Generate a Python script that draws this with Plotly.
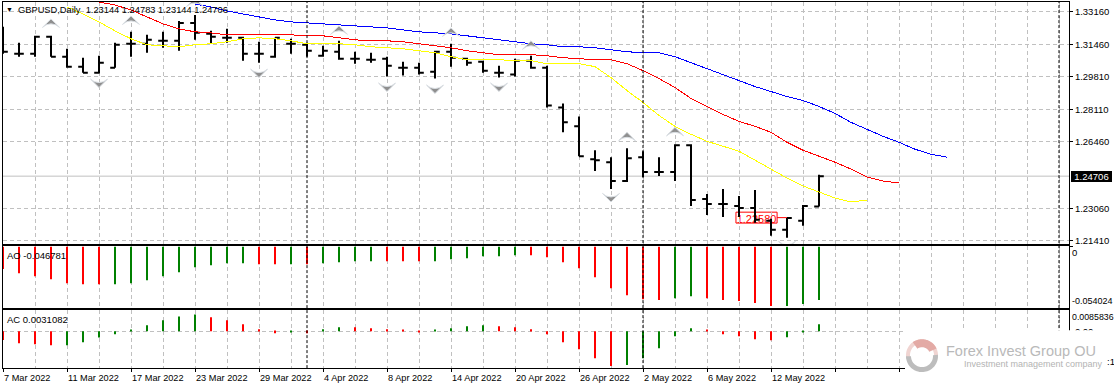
import numpy as np
import plotly.graph_objects as go

W, H = 1114, 391
LEFT_PX, RIGHT_PX = 3, 1069
BAR_STEP = 16

open_ = [1.31696,1.30982,1.30982,1.31849,1.30829,1.30319,1.30013,1.30268,1.31492,1.31492,1.31645,1.31645,1.32563,1.32002,1.31798,1.31798,1.30982,1.30829,1.31492,1.31441,1.30880,1.31084,1.30727,1.30676,1.30727,1.30268,1.30268,1.30064,1.31084,1.30727,1.30574,1.30013,1.29911,1.30625,1.30268,1.28228,1.27259,1.25576,1.25423,1.24454,1.25678,1.24913,1.24913,1.26290,1.23536,1.23281,1.23179,1.23077,1.22414,1.21955,1.22414,1.23144]
high = [1.32359,1.31543,1.31900,1.31900,1.31237,1.30778,1.30880,1.31543,1.32104,1.31951,1.32104,1.32665,1.32971,1.32155,1.32257,1.31849,1.31594,1.31798,1.31747,1.31543,1.31390,1.31645,1.31084,1.31033,1.30829,1.30574,1.30523,1.31135,1.31492,1.30778,1.30625,1.30370,1.30727,1.30880,1.30370,1.28432,1.27769,1.26035,1.25678,1.26137,1.25984,1.25678,1.26341,1.26341,1.23791,1.24046,1.23689,1.23995,1.22516,1.22567,1.23230,1.24783]
low = [1.30982,1.30829,1.30829,1.30829,1.30268,1.30013,1.29962,1.30268,1.30829,1.31033,1.31288,1.31135,1.31696,1.31492,1.31543,1.30625,1.30523,1.30778,1.30982,1.30829,1.30829,1.30676,1.30472,1.30523,1.29809,1.29860,1.29911,1.29707,1.30319,1.30370,1.30013,1.29758,1.29809,1.30217,1.28228,1.26953,1.25729,1.24964,1.24046,1.24403,1.24658,1.24709,1.24454,1.23179,1.22720,1.22618,1.22618,1.22312,1.21649,1.21547,1.22159,1.23144]
close = [1.31084,1.30982,1.31849,1.30829,1.30319,1.30013,1.30523,1.31441,1.31492,1.31696,1.31645,1.32563,1.32053,1.31849,1.31798,1.30982,1.30982,1.31798,1.31492,1.31135,1.31135,1.30727,1.30727,1.30676,1.30370,1.30268,1.30013,1.31084,1.30778,1.30523,1.30115,1.30013,1.30625,1.30268,1.28330,1.27463,1.25729,1.25525,1.24454,1.25627,1.24913,1.24913,1.26290,1.23485,1.23281,1.23281,1.23077,1.22465,1.21955,1.22567,1.23179,1.24706]

blue_start = 12
blue_ma = [1.33532,1.33379,1.33175,1.33022,1.32869,1.32716,1.32614,1.32563,1.32512,1.32461,1.32410,1.32359,1.32308,1.32206,1.32104,1.32053,1.32002,1.31900,1.31798,1.31696,1.31594,1.31492,1.31441,1.31339,1.31339,1.31288,1.31186,1.31084,1.31033,1.31033,1.30829,1.30523,1.30217,1.29911,1.29605,1.29299,1.29044,1.28789,1.28585,1.28279,1.27922,1.27463,1.27106,1.26749,1.26443,1.26086,1.25831,1.25678]
red_start = 6
red_ma = [1.33634,1.33481,1.33226,1.32869,1.32512,1.32257,1.32104,1.32053,1.31951,1.31951,1.31951,1.31951,1.31951,1.31900,1.31900,1.31798,1.31696,1.31645,1.31645,1.31594,1.31492,1.31390,1.31288,1.31135,1.31033,1.30931,1.30931,1.30931,1.30880,1.30778,1.30727,1.30676,1.30676,1.30472,1.30115,1.29707,1.29248,1.28687,1.28279,1.27871,1.27514,1.27259,1.26953,1.26443,1.26035,1.25729,1.25423,1.25066,1.24658,1.24454,1.24352]
yellow_start = 4
yellow_ma = [1.33379,1.33022,1.32614,1.32155,1.31747,1.31441,1.31390,1.31339,1.31441,1.31492,1.31594,1.31747,1.31798,1.31747,1.31645,1.31492,1.31492,1.31492,1.31441,1.31339,1.31288,1.31237,1.31135,1.31033,1.30829,1.30676,1.30676,1.30676,1.30625,1.30625,1.30472,1.30472,1.30472,1.30319,1.29758,1.29095,1.28483,1.27820,1.27259,1.26851,1.26494,1.26239,1.25984,1.25525,1.25066,1.24607,1.24199,1.23893,1.23587,1.23383,1.23485]

fractal_up_idx = [3, 8, 12, 21, 28, 33, 39, 42]
fractal_up = [1.32767,1.32920,1.33838,1.32410,1.32308,1.31645,1.26953,1.27208]
fractal_down_idx = [6, 16, 24, 27, 31, 38, 49]
fractal_down = [1.29248,1.29758,1.29044,1.28942,1.29044,1.23383,1.20935]

ao = [-.01935,-.02311,-.02571,-.02831,-.03177,-.03264,-.03264,-.03264,-.03177,-.02917,-.02571,-.02224,-.01791,-.01618,-.01444,-.01444,-.01531,-.01531,-.01531,-.01531,-.01444,-.01358,-.01271,-.01271,-.01271,-.01271,-.01271,-.01271,-.01098,-.01011,-.00838,-.00838,-.00751,-.00751,-.00924,-.01358,-.01878,-.02657,-.03611,-.04217,-.04564,-.04650,-.04477,-.04304,-.04477,-.04650,-.04737,-.04910,-.05170,-.05170,-.04997,-.04650]
ao_dir = list("rrrrrrr" "ggggggggg" "rr" "g" "r" "gggg" "rrr" "gggggg" "rrrrrrrrr" "gg" "rrrrr" "ggg")
ac = [-.00385,-.00533,-.00577,-.00622,-.00622,-.00488,-.00281,-.00133,.00044,.00266,.00488,.00666,.00755,.00622,.00488,.00311,.00089,-.00089,-.00044,-.00089,.00089,.00178,.00178,.00133,.00089,.00044,-.00030,.00044,.00133,.00222,.00266,.00222,.00178,.00089,-.00133,-.00488,-.00799,-.01199,-.01554,-.01510,-.01199,-.00755,-.00222,.00133,.00044,-.00133,-.00222,-.00355,-.00400,-.00266,-.00044,.00311]
ac_dir = list("rrrr" "ggggggggg" "rrrrr" "g" "r" "gg" "rrrrr" "gggg" "rrrrrrrr" "ggggg" "rrrrr" "ggg")

date_labels = ["7 Mar 2022","11 Mar 2022","17 Mar 2022","23 Mar 2022","29 Mar 2022","4 Apr 2022","8 Apr 2022","14 Apr 2022","20 Apr 2022","26 Apr 2022","2 May 2022","6 May 2022","12 May 2022"]
price_ticks = [1.33160,1.31460,1.29810,1.28110,1.26460,1.23060,1.21410]
separators = [19, 40, 66]
last_price = 1.24706
order_price = 1.22580

TEXT_FONT = "Liberation Sans"
FS = 9.5
colour = {"r": "#ff0000", "g": "#008000"}
idx = list(range(len(open_)))

def py(px):
    return 1 - px / H
def pxx(px):
    return px / W

x_range = [0, (RIGHT_PX - LEFT_PX) / BAR_STEP]
dom_x = [pxx(LEFT_PX), pxx(RIGHT_PX)]

fig = go.Figure()
fig.add_trace(go.Scatter(x=list(range(blue_start, blue_start + len(blue_ma))), y=blue_ma, mode="lines", line=dict(color="#0000ff", width=1)))
fig.add_trace(go.Scatter(x=list(range(red_start, red_start + len(red_ma))), y=red_ma, mode="lines", line=dict(color="#ff0000", width=1)))
fig.add_trace(go.Scatter(x=list(range(yellow_start, yellow_start + len(yellow_ma))), y=yellow_ma, mode="lines", line=dict(color="#ffff00", width=1)))
fig.add_trace(go.Ohlc(x=idx, open=open_, high=high, low=low, close=close, tickwidth=0.3,
                      increasing=dict(line=dict(color="black", width=2)),
                      decreasing=dict(line=dict(color="black", width=2))))
fig.add_trace(go.Scatter(x=fractal_up_idx, y=fractal_up, mode="markers",
                         marker=dict(symbol="arrow-wide", size=12, color="#8f8f8f", line=dict(color="#d8dde2", width=1))))
fig.add_trace(go.Scatter(x=fractal_down_idx, y=fractal_down, mode="markers",
                         marker=dict(symbol="arrow-wide", angle=180, size=12, color="#8f8f8f", line=dict(color="#d8dde2", width=1))))
fig.add_trace(go.Bar(x=idx, y=ao, marker=dict(color=[colour[d] for d in ao_dir], line_width=0), width=0.125, xaxis="x2", yaxis="y2"))
fig.add_trace(go.Bar(x=idx, y=ac, marker=dict(color=[colour[d] for d in ac_dir], line_width=0), width=0.125, xaxis="x3", yaxis="y3"))

grid = dict(showgrid=True, gridcolor="#c0c0c0", griddash="4px,3px", gridwidth=1)
major = list(range(0, 67, 4))
minor_vals = list(range(2, 67, 4))
xbase = dict(domain=dom_x, range=x_range, showline=True, mirror=True, linecolor="black", linewidth=1,
             zeroline=False, tickmode="array", tickvals=major, showticklabels=False,
             rangeslider=dict(visible=False),
             minor=dict(tickmode="array", tickvals=minor_vals, showgrid=True, gridcolor="#c0c0c0", griddash="4px,3px", gridwidth=1, ticks=""),
             **grid)
ybase = dict(side="right", showline=True, mirror=True, linecolor="black", linewidth=1, zeroline=False,
             ticks="outside", ticklen=3, tickcolor="black", tickmode="array",
             tickfont=dict(family=TEXT_FONT, size=FS, color="black"), **grid)

fig.update_layout(
    width=W, height=H, margin=dict(l=0, r=0, t=0, b=0, pad=0),
    paper_bgcolor="white", plot_bgcolor="white", showlegend=False, hovermode=False, barmode="overlay",
    xaxis=dict(anchor="y", ticks="", **xbase),
    xaxis2=dict(anchor="y2", ticks="", matches="x", **xbase),
    xaxis3=dict(anchor="y3", ticks="outside", ticklen=3, tickcolor="black", matches="x", **xbase),
    yaxis=dict(domain=[py(245), py(2)], range=[1.21241, 1.33634], anchor="x",
               tickvals=price_ticks, ticktext=[f"{v:.5f}" for v in price_ticks], **ybase),
    yaxis2=dict(domain=[py(310), py(247)], range=[-0.05373, 0.00087], anchor="x2",
                tickvals=[0], ticktext=[""], **ybase),
    yaxis3=dict(domain=[py(370), py(312)], range=[-0.01643, 0.00933], anchor="x3",
                tickvals=[0], ticktext=["0.00"], **ybase),
)

shapes = []
shapes.append(dict(type="line", xref="paper", yref="y", x0=dom_x[0], x1=dom_x[1], y0=last_price, y1=last_price,
                   line=dict(color="#c0c0c0", width=1), layer="below"))
shapes.append(dict(type="rect", xref="x", yref="y", x0=45.81, x1=48.38, y0=order_price - 0.0028, y1=order_price + 0.0028,
                   fillcolor="white", line=dict(color="#ff0000", width=1), layer="below",
                   label=dict(text="1.22580", font=dict(family=TEXT_FONT, size=11, color="#ff0000"),
                              textposition="middle center", padding=0)))
shapes.append(dict(type="line", xref="x", yref="y", x0=48.38, x1=49, y0=order_price, y1=order_price,
                   line=dict(color="#ff0000", width=1), layer="below"))
for s in separators:
    shapes.append(dict(type="line", xref="x", yref="paper", x0=s, x1=s, y0=py(370), y1=py(2),
                       line=dict(color="black", width=1, dash="3px,2px"), layer="above"))
shapes.append(dict(type="rect", xref="paper", yref="paper", x0=pxx(905), x1=1, y0=0, y1=py(332),
                   fillcolor="white", line=dict(width=0), layer="above"))

def arc(a0, a1, r_out, r_in, cx=922, cy=357, colr="#e5b4b0"):
    t = np.radians(np.linspace(a0, a1, 40))
    pts = [(cx + r_out * np.cos(a), cy - r_out * np.sin(a)) for a in t] + \
          [(cx + r_in * np.cos(a), cy - r_in * np.sin(a)) for a in t[::-1]]
    path = "M " + " L ".join(f"{pxx(x):.5f},{py(y):.5f}" for x, y in pts) + " Z"
    return dict(type="path", xref="paper", yref="paper", path=path, fillcolor=colr, line=dict(width=0), layer="above")

shapes.append(arc(-5, 195, 16, 12, colr="#f0d4d1"))
shapes.append(arc(25, 125, 16, 8, colr="#e3aaa5"))
shapes.append(arc(180, 365, 16, 11, cy=358, colr="#bdbdbd"))
fig.update_layout(shapes=shapes)

ann = []
def text(x, y, s, size=FS, color="black", xanchor="left", family=TEXT_FONT, **kw):
    ann.append(dict(xref="paper", yref="paper", x=pxx(x), y=py(y), text=s, showarrow=False, xanchor=xanchor,
                    yanchor="middle", font=dict(family=family, size=size, color=color),
                    borderpad=0, borderwidth=0, **kw))

text(18, 10, "GBPUSD,Daily&nbsp;&nbsp;1.23144 1.24783 1.23144 1.24706", size=9.3)
text(6, 10, "▼", size=7)
text(7, 257, "AO -0.046781")
text(7, 321, "AC 0.0031082")
text(1071, 177.5, "1.24706", color="white", bgcolor="black", width=41, height=11, align="center")
text(1072, 254, "0", size=FS)
text(1072, 303, "-0.054024", size=9)
text(1072, 319, "0.0085836", size=8.8)
text(946, 353, "Forex Invest Group OU", size=14.5, color="#b9b9b9")
text(964, 366, "Investment management company", size=9, color="#b3b3b3")
text(1107, 363.5, ":1", size=FS)

for i, lab in enumerate(date_labels):
    ann.append(dict(xref="x3", yref="paper", x=i * 4, y=py(379.5), text=lab, showarrow=False, xanchor="left",
                    yanchor="middle", font=dict(family=TEXT_FONT, size=9.2, color="black"), borderpad=0))
fig.update_layout(annotations=ann)

post = ("document.body.style.margin='0';document.body.style.overflow='hidden';"
        "document.querySelectorAll('.js-line').forEach(function(e){e.style.shapeRendering='crispEdges';});")
fig.write_html("out.html", post_script=post, config=dict(displayModeBar=False))
